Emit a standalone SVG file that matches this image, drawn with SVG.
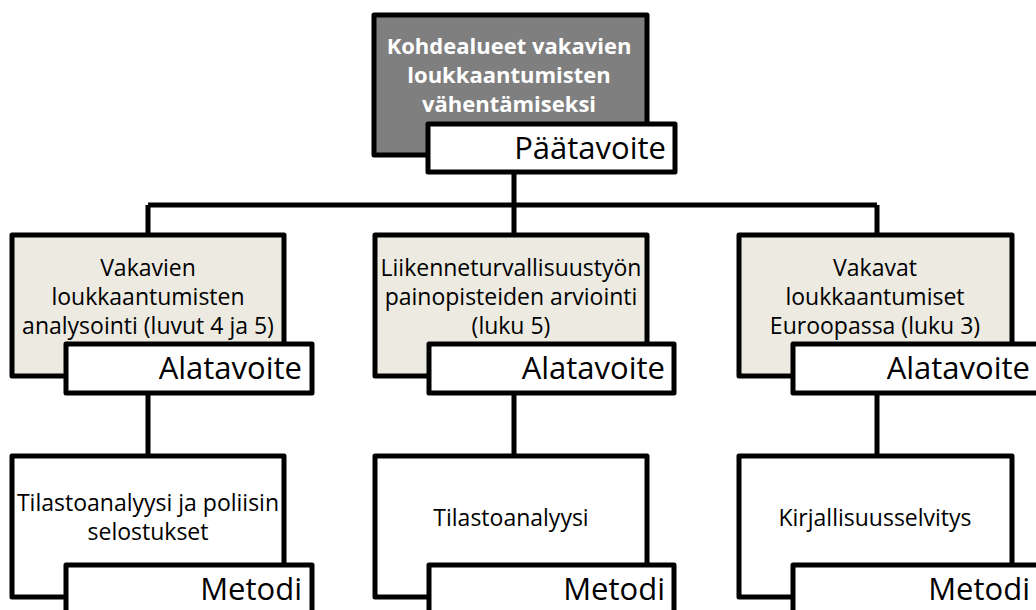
<svg xmlns="http://www.w3.org/2000/svg" width="1036" height="610" viewBox="0 0 1036 610">
<style>
.box{stroke:#000;stroke-width:5;stroke-linejoin:round}
.goal{fill:#7f7f7f}
.sub{fill:#eceae1}
.meth{fill:#fff}
.lbl{fill:#fff;stroke:#000;stroke-width:5;stroke-linejoin:round}
.t{font-family:"Open Sans","Liberation Sans",sans-serif;font-size:23px;fill:#000;text-anchor:middle}
.tb{font-family:"Open Sans","Liberation Sans",sans-serif;font-size:22px;font-weight:bold;fill:#fff;text-anchor:middle}
.l{font-family:"Open Sans","Liberation Sans",sans-serif;font-size:31px;fill:#000;text-anchor:end}
.conn{fill:none;stroke:#000;stroke-width:5}
</style>
<rect width="1036" height="610" fill="#fff"/>
<g id="connectors">
<path class="conn" d="M514 172V205M148 205H877M148 205V235M514 205V235M877 205V235M148 393V456M514 393V456M877 393V456"/>
</g>
<g id="n-goal">
<rect class="box goal" x="374" y="15" width="273" height="140"/>
<text class="tb" x="509" y="54">Kohdealueet vakavien</text>
<text class="tb" x="509" y="83">loukkaantumisten</text>
<text class="tb" x="509" y="112">vähentämiseksi</text>
<rect class="lbl" x="428" y="124" width="247" height="48"/>
<text class="l" x="666" y="159">Päätavoite</text>
</g>
<g id="n-sub1">
<rect class="box sub" x="12" y="235" width="272" height="141"/>
<text class="t" x="148" y="276">Vakavien</text>
<text class="t" x="148" y="305">loukkaantumisten</text>
<text class="t" x="148" y="334">analysointi (luvut 4 ja 5)</text>
<rect class="lbl" x="66" y="344" width="246" height="49"/>
<text class="l" x="302" y="379">Alatavoite</text>
</g>
<g id="n-sub2">
<rect class="box sub" x="375" y="235" width="272" height="141"/>
<text class="t" x="511" y="276">Liikenneturvallisuustyön</text>
<text class="t" x="511" y="305">painopisteiden arviointi</text>
<text class="t" x="511" y="334">(luku 5)</text>
<rect class="lbl" x="429" y="344" width="245" height="49"/>
<text class="l" x="665" y="379">Alatavoite</text>
</g>
<g id="n-sub3">
<rect class="box sub" x="739" y="235" width="273" height="141"/>
<text class="t" x="875" y="276">Vakavat</text>
<text class="t" x="875" y="305">loukkaantumiset</text>
<text class="t" x="875" y="334">Euroopassa (luku 3)</text>
<rect class="lbl" x="793" y="344" width="248" height="49"/>
<text class="l" x="1030" y="379">Alatavoite</text>
</g>
<g id="n-m1">
<rect class="box meth" x="12" y="456" width="272" height="141"/>
<text class="t" x="148" y="511">Tilastoanalyysi ja poliisin</text>
<text class="t" x="148" y="540">selostukset</text>
<rect class="lbl" x="66" y="565" width="246" height="50"/>
<text class="l" x="302" y="600">Metodi</text>
</g>
<g id="n-m2">
<rect class="box meth" x="375" y="456" width="272" height="141"/>
<text class="t" x="511" y="526">Tilastoanalyysi</text>
<rect class="lbl" x="429" y="565" width="245" height="50"/>
<text class="l" x="665" y="600">Metodi</text>
</g>
<g id="n-m3">
<rect class="box meth" x="739" y="456" width="273" height="141"/>
<text class="t" x="875" y="526">Kirjallisuusselvitys</text>
<rect class="lbl" x="793" y="565" width="248" height="50"/>
<text class="l" x="1030" y="600">Metodi</text>
</g>
</svg>
